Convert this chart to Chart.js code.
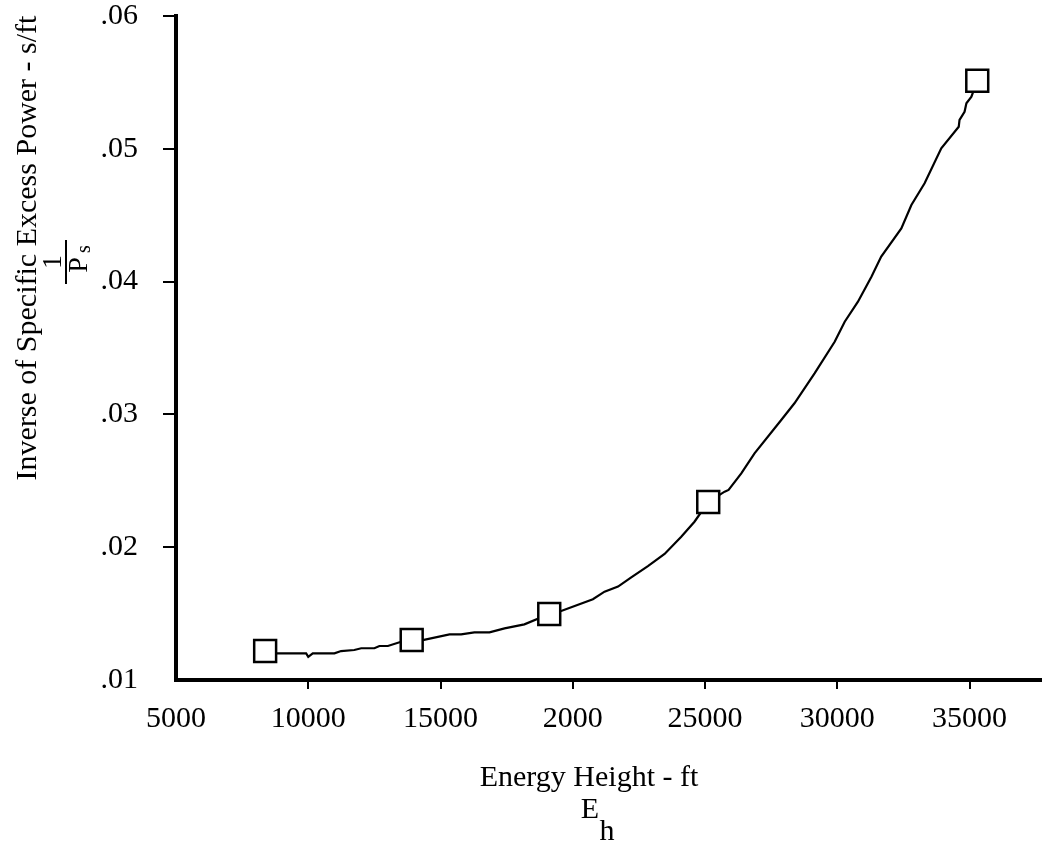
<!DOCTYPE html>
<html>
<head>
<meta charset="utf-8">
<title>Inverse of Specific Excess Power vs Energy Height</title>
<script src="https://cdn.jsdelivr.net/npm/chart.js@4.4.0/dist/chart.umd.min.js"></script>
<style>
  html, body { margin: 0; padding: 0; background: #fff; }
  #wrap { width: 1042px; height: 848px; }
</style>
</head>
<body>
<div id="wrap"><canvas id="chart" width="1042" height="848"></canvas></div>
<script>
// --- data ---
// square markers (flight test points)
const markerEnergy  = [8370, 13910, 19110, 25120, 35290];
const markerInverse = [0.01218, 0.01301, 0.01497, 0.02340, 0.05513];

// hand-faired curve through the points
const curveEnergy = [8370, 8780, 9920, 10000, 10170, 10990, 11240, 11740, 12000, 12500,
  12690, 13010, 13510, 13910, 14330, 15340, 15780, 16280, 16850, 17420,
  18170, 19110, 19560, 20760, 21200, 21710, 22210, 22840, 23470, 24100,
  24600, 25120, 25740, 25890, 26370, 26870, 27880, 28380, 29140, 29900,
  30280, 30780, 31290, 31660, 32420, 32800, 33300, 33930, 34590, 34620,
  34810, 34880, 35070, 35290];
const curveInverse = [0.0121, 0.01201, 0.01201, 0.01175, 0.01201, 0.01201, 0.01218, 0.01226, 0.01239, 0.01239,
  0.01256, 0.01256, 0.01288, 0.01301, 0.01301, 0.01344, 0.01344, 0.01359, 0.01359, 0.01389,
  0.01419, 0.01497, 0.01520, 0.01608, 0.01665, 0.01703, 0.01773, 0.01858, 0.01949, 0.02079,
  0.02192, 0.02340, 0.02418, 0.02431, 0.02556, 0.02707, 0.02958, 0.03084, 0.03309, 0.03547,
  0.03698, 0.03849, 0.04037, 0.04188, 0.04401, 0.04577, 0.04740, 0.05004, 0.05166, 0.05217,
  0.05279, 0.05343, 0.05392, 0.05513];

// ticks and their labels as printed (the "2000" typo is in the original)
const xTickValues = [5000, 10000, 15000, 20000, 25000, 30000, 35000];
const xTickLabels = ["5000", "10000", "15000", "2000", "25000", "30000", "35000"];
const yTickValues = [0.01, 0.02, 0.03, 0.04, 0.05, 0.06];
const yTickLabels = [".01", ".02", ".03", ".04", ".05", ".06"];

const serif = '"Liberation Serif", "Times New Roman", serif';
const fontPx = 30;

// titles are drawn by hand because of the subscripts and the fraction
const axisTitles = {
  id: "axisTitles",
  afterDraw(chart) {
    const ctx = chart.ctx;
    ctx.save();
    ctx.fillStyle = "#000";
    ctx.textAlign = "center";
    ctx.textBaseline = "middle";
    ctx.font = fontPx + "px " + serif;

    // x axis
    ctx.fillText("Energy Height - ft", 589, 778);
    ctx.fillText("E", 590, 810);
    ctx.fillText("h", 607, 832);

    // y axis title, rotated
    ctx.save();
    ctx.translate(28, 248);
    ctx.rotate(-Math.PI / 2);
    ctx.fillText("Inverse of Specific Excess Power - s/ft", 0, 0);
    ctx.restore();

    // 1 / P_s fraction, rotated
    ctx.save();
    ctx.translate(66, 262);
    ctx.rotate(-Math.PI / 2);
    ctx.font = "28px " + serif;
    ctx.fillText("1", 0, -12);
    ctx.fillRect(-22, -1, 44, 2);
    ctx.fillText("P", -3, 14);
    ctx.font = "20px " + serif;
    ctx.fillText("s", 13, 19);
    ctx.restore();

    ctx.restore();
  }
};

const ctx = document.getElementById("chart").getContext("2d");
new Chart(ctx, {
  type: "scatter",
  data: {
    datasets: [
      {
        label: "points",
        data: markerEnergy.map((x, i) => ({ x, y: markerInverse[i] })),
        pointStyle: "rect",
        pointRadius: 15.5,
        pointBackgroundColor: "#fff",
        pointBorderColor: "#000",
        pointBorderWidth: 2.5,
        showLine: false,
        clip: false,
        order: 0
      },
      {
        label: "curve",
        data: curveEnergy.map((x, i) => ({ x, y: curveInverse[i] })),
        showLine: true,
        borderColor: "#000",
        borderWidth: 2.2,
        pointRadius: 0,
        tension: 0,
        order: 1
      }
    ]
  },
  options: {
    responsive: false,
    animation: false,
    devicePixelRatio: 1,
    layout: { autoPadding: false, padding: { top: 16, right: 1, left: 0, bottom: 0 } },
    plugins: { legend: { display: false }, tooltip: { enabled: false } },
    scales: {
      x: {
        type: "linear",
        bounds: "data",
        min: 5000,
        max: 37700,
        afterBuildTicks: (s) => { s.ticks = xTickValues.map((value) => ({ value })); },
        afterFit: (s) => { s.height = 168; s.paddingLeft = 0; s.paddingRight = 0; },
        border: { display: true, color: "#000", width: 4 },
        grid: {
          drawOnChartArea: false,
          drawTicks: true,
          tickLength: 9,
          lineWidth: 2,
          color: (c) => (c.tick && c.tick.value === 5000 ? "rgba(0,0,0,0)" : "#000")
        },
        ticks: {
          autoSkip: false,
          maxRotation: 0,
          padding: 12,
          color: "#000",
          font: { family: serif, size: fontPx },
          callback: (v, i) => xTickLabels[i]
        }
      },
      y: {
        type: "linear",
        bounds: "data",
        min: 0.01,
        max: 0.06,
        afterBuildTicks: (s) => { s.ticks = yTickValues.map((value) => ({ value })); },
        afterFit: (s) => { s.width = 176; s.paddingTop = 0; s.paddingBottom = 0; },
        border: { display: true, color: "#000", width: 4 },
        grid: {
          drawOnChartArea: false,
          drawTicks: true,
          tickLength: 13,
          lineWidth: 2,
          color: (c) => (c.tick && c.tick.value === 0.01 ? "rgba(0,0,0,0)" : "#000")
        },
        ticks: {
          autoSkip: false,
          padding: 25,
          color: "#000",
          font: { family: serif, size: fontPx },
          callback: (v, i) => yTickLabels[i]
        }
      }
    }
  },
  plugins: [axisTitles]
});
</script>
</body>
</html>
